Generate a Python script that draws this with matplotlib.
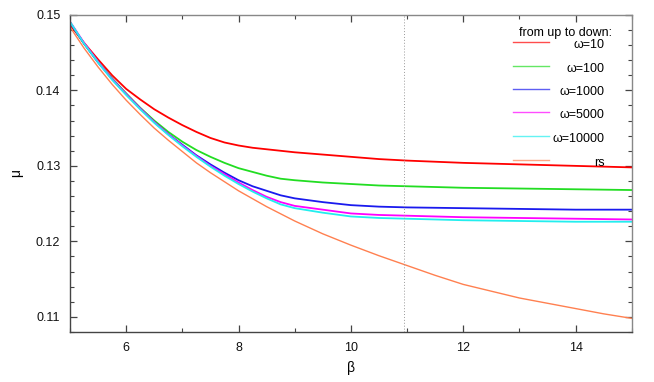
import matplotlib
matplotlib.use("Agg")
import matplotlib.pyplot as plt
from matplotlib.lines import Line2D

plt.rcParams['font.family'] = ['Liberation Sans', 'DejaVu Sans']

beta_main = [5, 5.25, 5.5, 5.75, 6, 6.25, 6.5, 6.75, 7, 7.25, 7.5, 7.75, 8,
             8.25, 8.5, 8.75, 9, 9.5, 10, 10.5, 11, 12, 13, 14, 15]

mu_w10 = [0.1487, 0.1463, 0.1441, 0.1420, 0.1402, 0.1388, 0.1375, 0.1364, 0.1354,
          0.1345, 0.1337, 0.1331, 0.1327, 0.1324, 0.1322, 0.1320, 0.1318, 0.1315,
          0.1312, 0.1309, 0.1307, 0.1304, 0.1302, 0.1300, 0.1298]
mu_w100 = [0.1490, 0.1462, 0.1438, 0.1416, 0.1396, 0.1377, 0.1360, 0.1345, 0.1332,
           0.1321, 0.1312, 0.1304, 0.1297, 0.1292, 0.1287, 0.1283, 0.1281, 0.1278,
           0.1276, 0.1274, 0.1273, 0.1271, 0.1270, 0.1269, 0.1268]
mu_w1000 = [0.1490, 0.1462, 0.1437, 0.1415, 0.1395, 0.1376, 0.1358, 0.1342, 0.1328,
            0.1314, 0.1302, 0.1291, 0.1281, 0.1273, 0.1267, 0.1261, 0.1257, 0.1252,
            0.1248, 0.1246, 0.1245, 0.1244, 0.1243, 0.1242, 0.1242]
mu_w5000 = [0.1491, 0.1463, 0.1438, 0.1415, 0.1395, 0.1376, 0.1358, 0.1342, 0.1327,
            0.1313, 0.1300, 0.1289, 0.1278, 0.1268, 0.1259, 0.1252, 0.1247, 0.1242,
            0.1237, 0.1235, 0.1234, 0.1232, 0.1231, 0.1230, 0.1229]
mu_w10000 = [0.1491, 0.1462, 0.1437, 0.1414, 0.1394, 0.1375, 0.1357, 0.1341, 0.1326,
             0.1312, 0.1299, 0.1287, 0.1276, 0.1266, 0.1257, 0.1249, 0.1244, 0.1238,
             0.1233, 0.1231, 0.1230, 0.1228, 0.1227, 0.1226, 0.1226]

beta_rs = [5, 5.25, 5.5, 5.75, 6, 6.25, 6.5, 6.75, 7, 7.25, 7.5, 7.75, 8, 8.5, 9,
           9.5, 10, 10.5, 11, 11.5, 12, 12.5, 13, 13.5, 14, 14.5, 15]
mu_rs = [0.1484, 0.1456, 0.1431, 0.1408, 0.1387, 0.1368, 0.1350, 0.1334, 0.1319,
         0.1304, 0.1291, 0.1279, 0.1267, 0.1246, 0.1227, 0.1210, 0.1195, 0.1181,
         0.1168, 0.1155, 0.1143, 0.1134, 0.1125, 0.1118, 0.1111, 0.1104, 0.1098]

beta_marker = 10.95

labels = ['ω=10', 'ω=100', 'ω=1000', 'ω=5000', 'ω=10000', 'rs']
colors = ['#ff0000', '#22dd22', '#1a1aee', '#ff00ff', '#22eeee', '#ff8050']

xticks = [6, 8, 10, 12, 14]
yticks = [0.11, 0.12, 0.13, 0.14, 0.15]

fig = plt.figure(figsize=(6.54, 3.82), dpi=100)
ax = fig.add_axes([0.107, 0.131, 0.859, 0.830])

series = [mu_w10, mu_w100, mu_w1000, mu_w5000, mu_w10000]
for s, c in zip(series, colors[:5]):
    ax.plot(beta_main, s, color=c, lw=1.3)
ax.plot(beta_rs, mu_rs, color=colors[5], lw=1.0)

ax.axvline(beta_marker, color='#999999', lw=0.7, ls=(0, (1, 2)))

ax.set_xlim(5, 15)
ax.set_ylim(0.108, 0.15)
ax.set_xticks(xticks)
ax.set_xticks([5, 7, 9, 11, 13, 15], minor=True)
ax.set_yticks(yticks)
ax.set_yticks([0.108 + 0.002 * i for i in range(22)], minor=True)
ax.set_xticklabels([str(t) for t in xticks])
ax.set_yticklabels(['%.2f' % t for t in yticks])
ax.tick_params(which='both', direction='in', top=True, right=True,
               labelsize=9, colors='#444444', labelcolor='#111111', pad=7)
ax.tick_params(which='major', length=5, width=0.9)
ax.tick_params(which='minor', length=3, width=0.8)
for side in ['left', 'bottom']:
    ax.spines[side].set_color('#444444')
    ax.spines[side].set_linewidth(1.0)
for side in ['top', 'right']:
    ax.spines[side].set_color('#888888')
    ax.spines[side].set_linewidth(1.0)

ax.set_xlabel('β', fontsize=10, labelpad=5)
ax.set_ylabel('μ', fontsize=10, labelpad=9)

# manual legend
def ax_x(px):
    return (px - 70) / 562.0

def ax_y(py):
    return (332 - py) / 317.0

ax.text(ax_x(566), ax_y(33), 'from up to down:', transform=ax.transAxes,
        ha='center', va='center', fontsize=9)
leg_y = [42, 66, 89, 112, 136, 160]
for lab, c, py in zip(labels, colors, leg_y):
    ax.add_line(Line2D([ax_x(513), ax_x(549)], [ax_y(py), ax_y(py)],
                       transform=ax.transAxes, color=c, lw=1.0, alpha=0.7))
    ax.text(ax_x(605), ax_y(py + 3), lab, transform=ax.transAxes,
            ha='right', va='center', fontsize=9)

fig.savefig('out.png', dpi=100)
